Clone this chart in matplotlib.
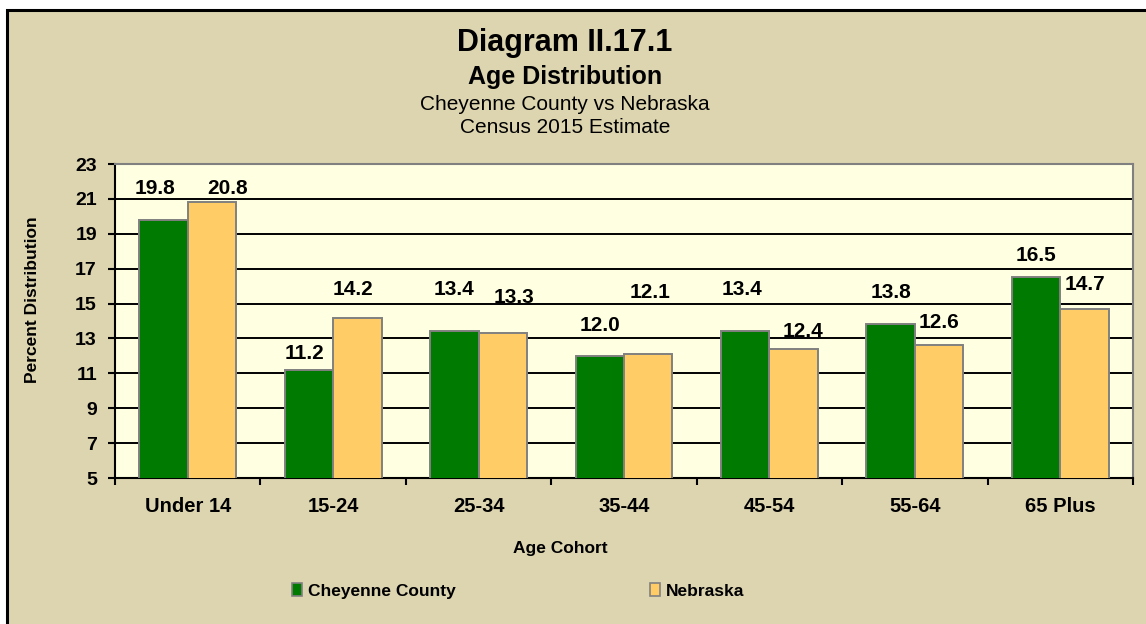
import matplotlib
matplotlib.use('Agg')
import matplotlib.pyplot as plt
from matplotlib.patches import Rectangle, Patch
import numpy as np

plt.rcParams['font.family'] = ['Liberation Sans', 'DejaVu Sans']

# data
cohorts = ['Under 14', '15-24', '25-34', '35-44', '45-54', '55-64', '65 Plus']
cheyenne = [19.8, 11.2, 13.4, 12.0, 13.4, 13.8, 16.5]
nebraska = [20.8, 14.2, 13.3, 12.1, 12.4, 12.6, 14.7]

# where the value labels sit (data units) and their sideways nudge (points)
lab_y_chey = [21.57, 12.11, 15.78, 13.77, 15.83, 15.66, 17.78]
lab_y_neb = [21.57, 15.83, 15.32, 15.61, 13.37, 13.89, 16.12]
lab_dx_chey = [-6, -3, 0, 0, -2, 0, 0]
lab_dx_neb = [11, -3, 8, 1, 7, 0, 0]

green = '#007A00'
orange = '#FFCC66'
tan = '#DDD5B0'
plotbg = '#FFFFE1'

fig = plt.figure(figsize=(11.46, 6.24), dpi=100, facecolor='white')
# tan chart background with black frame (cropped on right/bottom)
fig.patches.append(Rectangle((7/1146, -0.01), 1.0, 1 - 10/624 + 0.01,
                             transform=fig.transFigure, facecolor=tan,
                             edgecolor='black', linewidth=2.2, zorder=-10))

ax = fig.add_axes([115/1146, 1 - 478/624, (1133-115)/1146, (478-164)/624])
ax.set_facecolor(plotbg)

x = np.arange(len(cohorts))
w = 1/3
ax.bar(x - w/2, cheyenne, width=w, color=green, edgecolor='#808080', linewidth=1.4, zorder=3,
       label='Cheyenne County')
ax.bar(x + w/2, nebraska, width=w, color=orange, edgecolor='#808080', linewidth=1.4, zorder=3,
       label='Nebraska')

ax.set_ylim(5, 23)
ax.set_xlim(-0.5, len(cohorts) - 0.5)
ax.set_yticks(np.arange(5, 24, 2))
ax.yaxis.grid(True, color='black', linewidth=1.4, zorder=1)
ax.set_axisbelow(True)

for s in ['top', 'right']:
    ax.spines[s].set_color('#808080')
    ax.spines[s].set_linewidth(1.5)
for s in ['left', 'bottom']:
    ax.spines[s].set_color('black')
    ax.spines[s].set_linewidth(1.5)

ax.set_xticks(x)
ax.set_xticklabels(cohorts, fontsize=14.5, fontweight='bold')
ax.set_xticks(np.arange(-0.5, len(cohorts)), minor=True)
ax.tick_params(axis='x', which='major', length=0, pad=14)
ax.tick_params(axis='x', which='minor', length=5, width=1.5, direction='out')
ax.tick_params(axis='y', length=5, width=1.5, direction='out', pad=8)
for t in ax.get_yticklabels():
    t.set_fontsize(14)
    t.set_fontweight('bold')

for i in range(len(cohorts)):
    ax.annotate('%.1f' % cheyenne[i], (x[i] - w/2, lab_y_chey[i]), xytext=(lab_dx_chey[i], 0),
                textcoords='offset points', ha='center', va='center',
                fontsize=15, fontweight='bold', zorder=5)
    ax.annotate('%.1f' % nebraska[i], (x[i] + w/2, lab_y_neb[i]), xytext=(lab_dx_neb[i], 0),
                textcoords='offset points', ha='center', va='center',
                fontsize=15, fontweight='bold', zorder=5)

# titles
fig.text(565/1146, 1 - 43/624, 'Diagram II.17.1', ha='center', va='center', fontsize=22, fontweight='bold')
fig.text(565/1146, 1 - 77/624, 'Age Distribution', ha='center', va='center', fontsize=18, fontweight='bold')
fig.text(565/1146, 1 - 105/624, 'Cheyenne County vs Nebraska', ha='center', va='center', fontsize=15)
fig.text(565/1146, 1 - 128/624, 'Census 2015 Estimate', ha='center', va='center', fontsize=15)

fig.text(560/1146, 1 - 549/624, 'Age Cohort', ha='center', va='center', fontsize=12.5, fontweight='bold')
fig.text(33/1146, 1 - 300/624, 'Percent Distribution', ha='center', va='center', rotation=90,
         fontsize=12.5, fontweight='bold')

handles = [Patch(facecolor=green, edgecolor='#808080', linewidth=1.2),
           Patch(facecolor=orange, edgecolor='#808080', linewidth=1.2)]
fig.legend(handles, ['Cheyenne County', 'Nebraska'], ncol=2, frameon=False,
           loc='center left', bbox_to_anchor=(292/1146, 1 - 591/624),
           prop={'size': 12.5, 'weight': 'bold'}, handlelength=0.6, handleheight=0.7,
           handletextpad=0.3, columnspacing=11.2, borderpad=0, borderaxespad=0)

fig.savefig('out.png', dpi=100, facecolor='white')
